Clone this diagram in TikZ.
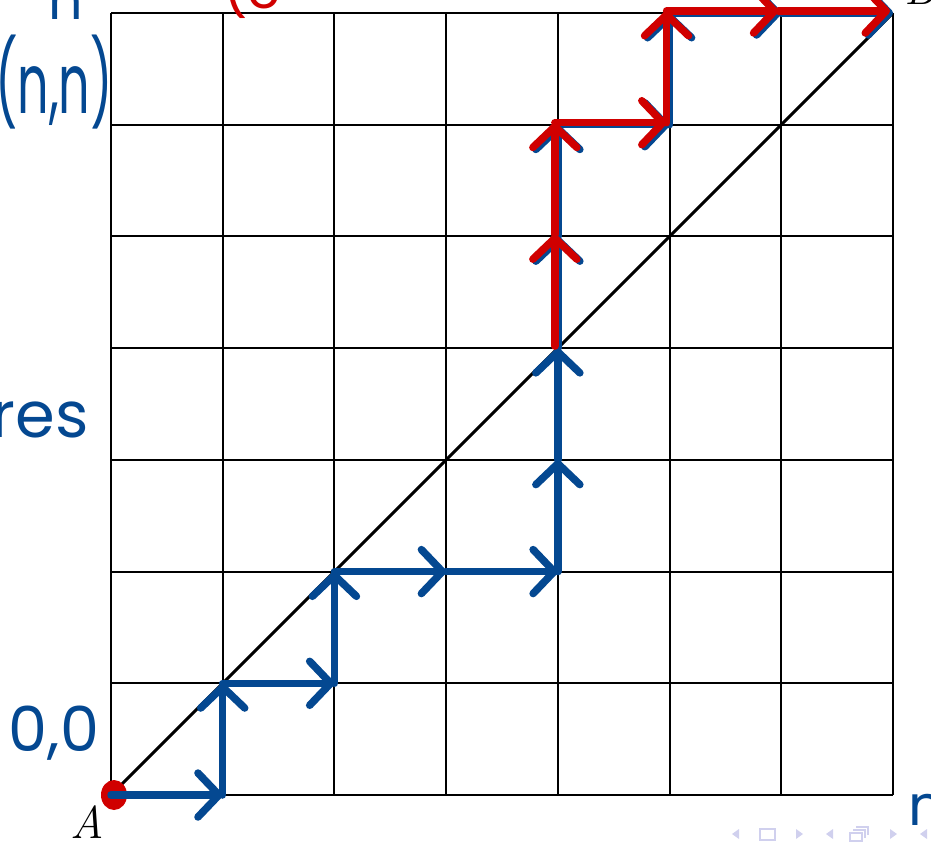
\documentclass[tikz,border=0pt]{standalone}
\usepackage{fontspec}
\newfontfamily\hand{Poppins}
\usetikzlibrary{arrows.meta}
\definecolor{pen}{RGB}{4,72,145}
\definecolor{redpen}{RGB}{208,0,0}
\definecolor{navcol}{RGB}{208,208,238}
\tikzset{
  gridline/.style={line width=2pt, black},
  diagline/.style={line width=3pt, black},
  penarrow/.style={line width=7.5pt, line cap=round, line join=round, draw=#1,
    -{Straight Barb[length=21pt, width=44pt, line width=7.5pt, round]}},
  handtext/.style={text=pen, inner sep=0pt, font={\hand\fontsize{#1}{#1}\selectfont}},
  redtext/.style={text=redpen, inner sep=0pt, font={\hand\fontsize{#1}{#1}\selectfont}},
  serif/.style={inner sep=0pt, font={\fontsize{46}{46}\selectfont\itshape}},
  navshape/.style={fill=navcol, draw=none}
}
\begin{document}
\begin{tikzpicture}[x=1pt,y=-1pt]
\useasboundingbox (0,0) rectangle (931,841);
\clip (0,0) rectangle (931,841);
% grid points
\foreach \i in {0,...,7}
  \foreach \j in {0,...,7}
    \coordinate (p\i\j) at ({111+\i*111.714},{795-\j*111.714});
% grid
\foreach \i in {0,...,7} {
  \draw[gridline] (p\i0) -- (p\i7);
  \draw[gridline] (p0\i) -- (p7\i);
}
\draw[diagline] (p00) -- (p77);
% labels A and B
\node[serif] (A) at (87,822) {A};
\node[serif, anchor=base] (B) at (920,4) {B};
% red dot at start
\fill[redpen] ([xshift=3pt]p00) ellipse [x radius=13pt, y radius=15pt];
% blue path
\foreach \a/\b in {00/10,10/11,11/21,21/22,22/32,32/42,42/43,43/44,44/45,45/46,46/56,56/57,57/67,67/77}
  \draw[penarrow=pen] (p\a) -- (p\b);
% red path overlay
\begin{scope}[transform canvas={xshift=-3pt,yshift=2pt}]
\foreach \a/\b in {44/45,45/46,46/56,56/57,57/67,67/77}
  \draw[penarrow=redpen] (p\a) -- (p\b);
\end{scope}
% handwritten annotations
\node[handtext=54] (ntop) at (66,4) {n};
\node[handtext=58] (nn) at (54,82) {\scalebox{0.85}[1.45]{(n,n)}};
\node[handtext=64] (res) at (40,420) {res};
\node[handtext=62] (zero) at (54,733) {0,0};
\node[handtext=56] (nbot) at (926,810) {n};
\node[redtext=54] (rtop) at (252,-12) {(c};
% navigation symbols
\fill[navshape] (732,834) -- (739,829) -- (739,839) -- cycle;
\draw[navcol, line width=1.6pt] (760,829) rectangle (775,840);
\fill[navshape] (803,834) -- (796,829) -- (796,839) -- cycle;
\fill[navshape] (826,834) -- (833,829) -- (833,839) -- cycle;
\draw[navcol, line width=1.6pt] (850,833) rectangle (862,841);
\draw[navcol, line width=1.6pt] (853,830) -- (865,830) -- (865,838);
\draw[navcol, line width=1.6pt] (856,827) -- (868,827) -- (868,835);
\fill[navshape] (897,834) -- (890,829) -- (890,839) -- cycle;
\fill[navshape] (920,834) -- (927,829) -- (927,839) -- cycle;
\end{tikzpicture}
\end{document}
